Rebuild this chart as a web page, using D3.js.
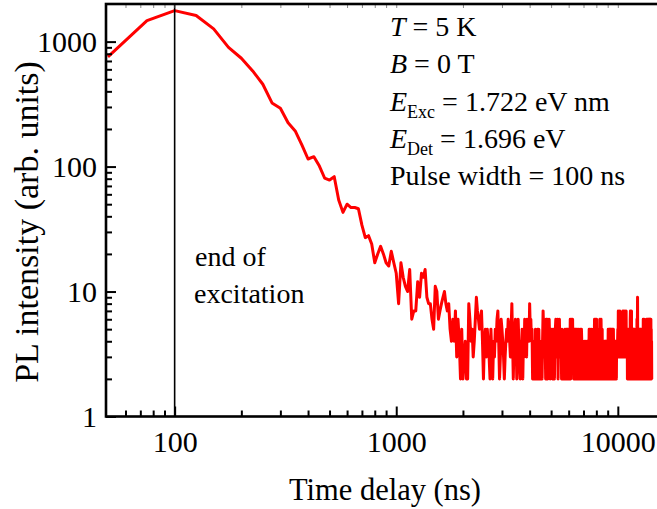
<!DOCTYPE html>
<html>
<head>
<meta charset="utf-8">
<script src="https://cdn.jsdelivr.net/npm/d3@7"></script>
<style>
  body { margin: 0; background: #fff; overflow: hidden; }
  svg text { font-family: "Liberation Serif", "Times New Roman", serif; fill: #000; }
</style>
</head>
<body>
<div id="chart"></div>
<script>
// time bins of the transient (ns)
const binStart = 50;
const binWidth = 25;

// PL counts, 50 ns .. 1000 ns
const earlyCounts = [755, 1470, 1770, 1620, 1265, 900, 736, 583, 456, 323, 293, 224, 193, 149,
  115, 120, 101, 81, 78, 83, 54, 43, 50, 47, 47, 46, 34, 27, 28, 24, 17, 20, 23, 20, 17, 16, 21, 17, 14];

// 1025 ns .. 3575 ns
const midCounts = [8, 17, 13, 11, 10, 15, 6, 7, 7, 12, 9, 14, 13, 15, 9, 8, 8, 6, 5, 11,
  10, 6, 7, 8, 9, 10, 8, 7, 8, 5, 4, 6, 4, 7, 3, 6, 4, 2, 5, 2, 3, 4, 2, 2, 8,
  6, 4, 5, 3, 4, 6, 9, 7, 6, 5, 6, 7, 4, 2, 4, 5, 3, 5, 4, 3, 2, 5, 3, 2, 4,
  3, 5, 4, 6, 7, 4, 2, 3, 6, 5, 4, 3, 2, 3, 4, 5, 4, 6, 5, 4, 3, 5, 8, 4, 2,
  4, 5, 6, 4, 2, 3, 6, 4];

// 3600 ns .. 14225 ns (background level)
const tailCounts = [3, 2, 4, 3, 5, 2, 4, 3, 6, 4, 5, 3, 6, 4, 5, 4, 8, 5, 6, 4, 5, 2, 3, 2,
  4, 2, 5, 3, 2, 4, 5, 2, 5, 3, 2, 4, 2, 3, 2, 4, 7, 5, 6, 3, 4, 2, 6, 5, 6, 2, 5, 3, 6, 4, 2, 5,
  5, 3, 4, 2, 5, 4, 3, 2, 4, 5, 6, 4, 5, 3, 6, 2, 5, 4, 6, 3, 5, 3, 4, 2, 5, 3, 4, 2, 3, 4,
  2, 5, 3, 2, 5, 4, 2, 5, 3, 5, 4, 2, 5, 3, 6, 2, 4, 6, 3, 5, 6, 3, 5, 2, 4, 5, 3, 2, 5, 4,
  5, 2, 4, 3, 5, 2, 4, 5, 3, 2, 4, 5, 3, 2, 5, 4, 3, 2, 4, 3, 2, 3, 2, 4, 2, 3, 2, 4, 2, 3,
  2, 4, 3, 2, 4, 2, 3, 5, 2, 4, 5, 2, 4, 3, 2, 5, 3, 2, 4, 2, 3, 5, 2, 4, 6, 3, 2, 5, 6, 2,
  4, 6, 3, 2, 5, 4, 2, 5, 3, 2, 4, 2, 6, 3, 5, 2, 6, 4, 2, 3, 5, 2, 4, 3, 2, 4, 2, 3, 4, 2,
  3, 4, 2, 4, 3, 2, 4, 3, 2, 4, 2, 3, 5, 2, 4, 3, 5, 2, 4, 5, 2, 5, 3, 4, 2, 5, 3, 2, 5, 4,
  2, 4, 5, 3, 2, 4, 3, 2, 4, 3, 4, 2, 3, 4, 2, 4, 3, 4, 3, 4, 5, 3, 7, 4, 3, 6, 4, 5, 3, 7,
  4, 5, 3, 6, 4, 3, 5, 4, 3, 5, 4, 3, 7, 5, 3, 6, 4, 3, 7, 4, 3, 5, 4, 6, 3, 4, 7, 3, 5, 4,
  3, 5, 2, 4, 2, 3, 5, 2, 4, 3, 2, 4, 5, 3, 2, 6, 7, 4, 2, 5, 3, 7, 2, 4, 5, 2, 3, 4, 2, 5,
  3, 2, 5, 4, 2, 3, 5, 2, 4, 3, 2, 4, 5, 2, 3, 5, 4, 2, 6, 3, 5, 9, 4, 2, 5, 3, 2, 4, 5, 2,
  3, 5, 2, 4, 3, 2, 5, 4, 2, 3, 5, 2, 3, 4, 2, 5, 3, 2, 4, 2, 3, 6, 2, 4, 5, 2, 6, 3, 2, 4,
  5, 3, 2, 4, 3, 5, 2, 4, 3, 5, 6, 2, 4, 5, 3, 6, 2, 4, 3, 6, 4, 2, 5, 6, 3, 2, 6, 4, 5, 3,
  6, 2, 4, 3, 6, 2, 5, 2, 4, 2];

const xMajorTicks = [100, 1000, 10000];
const xMinorTicks = [60, 70, 80, 90, 200, 300, 400, 500, 600, 700, 800, 900,
  2000, 3000, 4000, 5000, 6000, 7000, 8000, 9000];
const yMajorTicks = [1, 10, 100, 1000];
const yMinorTicks = [2, 3, 4, 5, 6, 7, 8, 9, 20, 30, 40, 50, 60, 70, 80, 90,
  200, 300, 400, 500, 600, 700, 800, 900];
const excitationEnd = 100;

const infoLines = [
  { sym: "T", sub: "", rest: " = 5 K" },
  { sym: "B", sub: "", rest: " = 0 T" },
  { sym: "E", sub: "Exc", rest: " = 1.722 eV nm" },
  { sym: "E", sub: "Det", rest: " = 1.696 eV" },
  { sym: "", sub: "", rest: "Pulse width = 100 ns" }
];

const W = 657, H = 509;
const plot = { left: 106, right: 660, top: 4, bottom: 416.5 };

const svg = d3.select("#chart").append("svg")
  .attr("width", W)
  .attr("height", H);

const x = d3.scaleLog().domain([49, 15500]).range([plot.left, plot.right]);
const y = d3.scaleLog().domain([1, 2000]).range([plot.bottom, plot.top]);

const counts = earlyCounts.concat(midCounts, tailCounts);
const series = counts.map((v, i) => ({ t: binStart + i * binWidth, v: v }));

svg.append("clipPath").attr("id", "clip")
  .append("rect")
  .attr("x", plot.left).attr("y", plot.top)
  .attr("width", plot.right - plot.left).attr("height", plot.bottom - plot.top);

// curve
const line = d3.line().x(d => x(d.t)).y(d => y(d.v));
svg.append("path")
  .datum(series)
  .attr("clip-path", "url(#clip)")
  .attr("fill", "none")
  .attr("stroke", "#ff0000")
  .attr("stroke-width", 3)
  .attr("stroke-linejoin", "round")
  .attr("d", line);

// end of excitation marker
svg.append("line")
  .attr("x1", x(excitationEnd)).attr("x2", x(excitationEnd))
  .attr("y1", plot.top).attr("y2", plot.bottom)
  .attr("stroke", "#000")
  .attr("stroke-width", 1.6);

// axes (ticks inside)
function styleAxis(g) {
  g.select(".domain").remove();
  g.selectAll("line").attr("stroke", "#000").attr("stroke-width", 2);
  g.selectAll("text").attr("font-size", "30px")
    .style("font-family", '"Liberation Serif", "Times New Roman", serif');
}

svg.append("g")
  .attr("transform", "translate(0," + plot.bottom + ")")
  .call(d3.axisBottom(x).tickValues(xMajorTicks).tickSizeInner(-10).tickSizeOuter(0)
    .tickPadding(14).tickFormat(d3.format("d")))
  .call(styleAxis);
svg.append("g")
  .attr("transform", "translate(0," + plot.bottom + ")")
  .call(d3.axisBottom(x).tickValues(xMinorTicks).tickSizeInner(-6).tickSizeOuter(0).tickFormat(""))
  .call(styleAxis);

svg.append("g")
  .attr("transform", "translate(0," + plot.top + ")")
  .call(d3.axisTop(x).tickValues(xMajorTicks.concat(xMinorTicks)).tickSizeInner(-4).tickSizeOuter(0).tickFormat(""))
  .call(styleAxis)
  .selectAll("line").attr("stroke", "#888").attr("stroke-width", 1);

svg.append("g")
  .attr("transform", "translate(" + plot.left + ",0)")
  .call(d3.axisLeft(y).tickValues(yMajorTicks).tickSizeInner(-10).tickSizeOuter(0)
    .tickPadding(9).tickFormat(d3.format("d")))
  .call(styleAxis);
svg.append("g")
  .attr("transform", "translate(" + plot.left + ",0)")
  .call(d3.axisLeft(y).tickValues(yMinorTicks).tickSizeInner(-6).tickSizeOuter(0).tickFormat(""))
  .call(styleAxis);

// frame
svg.append("rect")
  .attr("x", plot.left).attr("y", plot.top)
  .attr("width", plot.right - plot.left).attr("height", plot.bottom - plot.top)
  .attr("fill", "none")
  .attr("stroke", "#000")
  .attr("stroke-width", 2.6);

// axis titles
svg.append("text")
  .attr("x", 385).attr("y", 500)
  .attr("text-anchor", "middle")
  .attr("font-size", "30.5px")
  .text("Time delay (ns)");

svg.append("text")
  .attr("transform", "translate(38,222) rotate(-90)")
  .attr("text-anchor", "middle")
  .attr("font-size", "34px")
  .text("PL intensity (arb. units)");

// annotation near the marker
const note = svg.append("text").attr("font-size", "28px");
note.append("tspan").attr("x", 195).attr("y", 266).text("end of");
note.append("tspan").attr("x", 194).attr("y", 303).text("excitation");

// measurement info
infoLines.forEach((d, i) => {
  const t = svg.append("text")
    .attr("x", 390)
    .attr("y", 36 + i * 37.3)
    .attr("font-size", "28px");
  if (d.sym) t.append("tspan").attr("font-style", "italic").text(d.sym);
  if (d.sub) t.append("tspan").attr("font-size", "18px").attr("dy", 7).text(d.sub);
  t.append("tspan").attr("dy", d.sub ? -7 : 0).text(d.rest);
});
</script>
</body>
</html>
